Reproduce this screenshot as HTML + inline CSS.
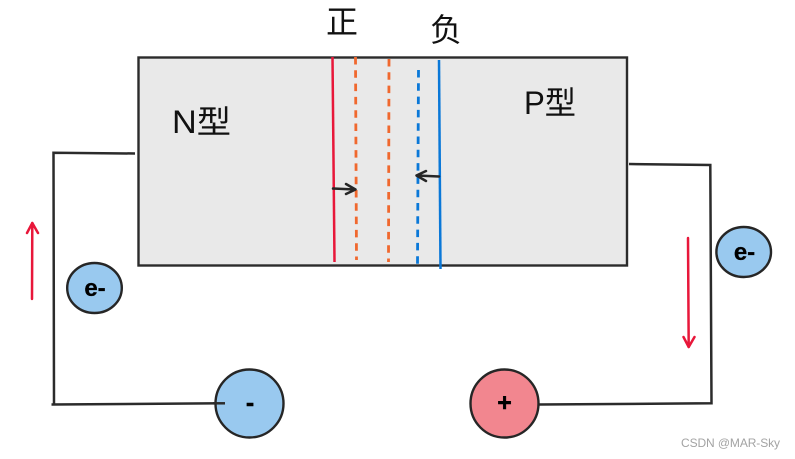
<!DOCTYPE html>
<html>
<head>
<meta charset="utf-8">
<style>
html,body{margin:0;padding:0;background:#fff;width:795px;height:459px;overflow:hidden}
svg{display:block}
text{font-family:"Liberation Sans","Noto Sans CJK SC",sans-serif}
</style>
</head>
<body>
<svg width="795" height="459" viewBox="0 0 795 459" xmlns="http://www.w3.org/2000/svg">
<rect width="795" height="459" fill="#fff"/>
<rect x="138.5" y="57.5" width="488.5" height="208" fill="#e9e9e9" stroke="#2b2b2b" stroke-width="2.4"/>

<!-- vertical lines -->
<line x1="332.5" y1="57" x2="334.5" y2="262" stroke="#e8173a" stroke-width="2.5"/>
<line x1="355.5" y1="57" x2="356.5" y2="260" stroke="#f0682e" stroke-width="2.8" stroke-dasharray="7.5 5.8"/>
<line x1="389" y1="59" x2="388.5" y2="262" stroke="#f0682e" stroke-width="2.8" stroke-dasharray="7.5 5.8"/>
<line x1="418.5" y1="70" x2="417.5" y2="265" stroke="#0a78d8" stroke-width="2.8" stroke-dasharray="7.5 5.8"/>
<line x1="439" y1="60" x2="440.5" y2="269" stroke="#0a78d8" stroke-width="2.5"/>

<!-- small arrows -->
<g fill="none" stroke="#262626" stroke-width="2.5" stroke-linecap="round" stroke-linejoin="round">
<path d="M333 188.5 L355 189.5"/>
<path d="M346 184 L355.5 189.5 L346 194"/>
<path d="M439 176.5 L417 175.5"/>
<path d="M426 171 L416.5 175.5 L426 181"/>
</g>

<!-- wires -->
<g fill="none" stroke="#2b2b2b" stroke-width="2.5">
<path d="M135 153.5 L53.5 152.8 L54 404.5"/>
<path d="M51.5 404.5 L225 403.3"/>
<path d="M629 164 L710.3 165 L711.5 403.3 L539 404.5"/>
</g>

<!-- red arrows -->
<g fill="none" stroke="#e8173a" stroke-width="2.5" stroke-linecap="round" stroke-linejoin="round">
<path d="M32 299 L32.3 223"/>
<path d="M27 233 L32.3 223 L38 233"/>
<path d="M688 238 L688.7 347"/>
<path d="M683.5 337 L688.7 347 L694.5 337"/>
</g>

<!-- circles -->
<ellipse cx="94.5" cy="288" rx="27.3" ry="25" fill="#99c9ef" stroke="#262626" stroke-width="2.4"/>
<ellipse cx="743.7" cy="252" rx="27.3" ry="25" fill="#99c9ef" stroke="#262626" stroke-width="2.4"/>
<circle cx="249.5" cy="403.5" r="34" fill="#99c9ef" stroke="#262626" stroke-width="2.4"/>
<circle cx="504.5" cy="403.5" r="34" fill="#f2868f" stroke="#262626" stroke-width="2.4"/>
<line x1="213" y1="403.3" x2="225" y2="403.3" stroke="#2b2b2b" stroke-width="2.5"/>

<!-- circle labels -->
<text x="95" y="296" font-size="24" font-weight="700" text-anchor="middle" fill="#000" stroke="#000" stroke-width="0.3">e-</text>
<text x="744.5" y="260" font-size="24" font-weight="700" text-anchor="middle" fill="#000" stroke="#000" stroke-width="0.3">e-</text>
<text x="250" y="411" font-size="25" font-weight="700" text-anchor="middle" fill="#000" stroke="#000" stroke-width="0.4">-</text>
<text x="504.5" y="411" font-size="25" font-weight="700" text-anchor="middle" fill="#000" stroke="#000" stroke-width="0.4">+</text>

<!-- labels -->
<text x="326" y="33" font-size="32" fill="#111">正</text>
<text x="430" y="41" font-size="32" fill="#111">负</text>
<text x="172" y="133" font-size="32" fill="#111" textLength="59" lengthAdjust="spacingAndGlyphs">N型</text>
<text x="524" y="114" font-size="32" fill="#111" textLength="52" lengthAdjust="spacingAndGlyphs">P型</text>

<text x="681" y="447" font-size="12" fill="#a3a3a3" textLength="99">CSDN @MAR-Sky</text>
</svg>
</body>
</html>
